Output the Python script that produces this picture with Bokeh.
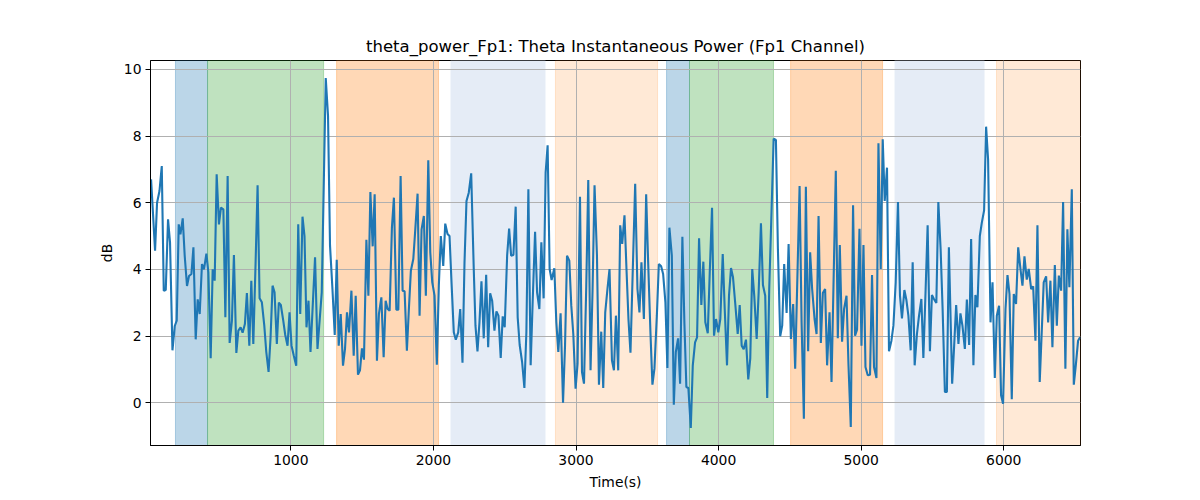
from bokeh.plotting import figure
from bokeh.models import BoxAnnotation, FixedTicker, Range1d
from bokeh.embed import file_html
from bokeh.resources import INLINE

time_s = [20, 48, 62, 79, 95, 109, 123, 139, 153, 170, 186, 200, 214, 226, 242, 256, 272, 286, 303, 317,
          333, 347, 361, 377, 391, 408, 422, 438, 452, 466, 480, 496, 510, 527, 541, 557, 571, 587, 601, 618,
          632, 648, 662, 678, 692, 709, 723, 737, 753, 767, 781, 797, 814, 828, 844, 858, 872, 886, 902, 916,
          930, 947, 961, 977, 991, 1005, 1021, 1038, 1052, 1066, 1082, 1096, 1110, 1124, 1138,
          1170, 1187, 1217, 1245, 1261, 1275, 1292, 1308, 1322, 1336, 1350, 1366, 1380, 1394, 1408, 1425,
          1441, 1455, 1471, 1485, 1499, 1513, 1530, 1544, 1558, 1574, 1588, 1604, 1618, 1635, 1651, 1665,
          1679, 1693, 1709, 1723, 1740, 1754, 1770, 1784, 1798, 1814, 1828, 1842, 1859, 1873, 1889, 1903,
          1917, 1933, 1947, 1964, 1978, 1992, 2008, 2024, 2038, 2052, 2069, 2083, 2099, 2113, 2127, 2143,
          2157, 2174, 2188, 2204, 2218, 2232, 2248,
          2265, 2283, 2295, 2309, 2323, 2337, 2353, 2370, 2384, 2398, 2412, 2428, 2442, 2456, 2472, 2486,
          2500, 2517, 2531, 2545, 2561, 2577, 2591, 2605, 2622, 2638, 2652, 2666, 2682, 2696, 2713, 2727,
          2743, 2757, 2773, 2787, 2801, 2815, 2829, 2848, 2862, 2876, 2892, 2909, 2923, 2937, 2953, 2967,
          2981, 2997, 3011, 3028, 3042, 3056, 3072, 3086, 3102, 3116, 3130, 3147, 3161, 3177, 3191, 3205,
          3221, 3235, 3252, 3266, 3280, 3296, 3310, 3324, 3340, 3354, 3368, 3382,
          3415, 3431, 3445, 3459, 3476, 3492, 3506, 3522, 3536, 3550, 3567, 3581, 3597, 3611, 3627, 3641,
          3655, 3672, 3686, 3700, 3716, 3730, 3746, 3760, 3774, 3788, 3805, 3819, 3835, 3849, 3863, 3879,
          3893, 3907, 3924, 3938, 3954, 3968, 3982, 3998, 4012, 4029, 4043, 4059, 4073, 4087, 4101, 4117,
          4134, 4148, 4162, 4176, 4192, 4208, 4222, 4236, 4250, 4267, 4281, 4297, 4311, 4327, 4341, 4355,
          4372, 4386, 4402, 4416, 4432, 4446, 4460, 4477, 4491,
          4507, 4523, 4537, 4568, 4582, 4598, 4612, 4628, 4642, 4656, 4673, 4687, 4701, 4717, 4731, 4747,
          4761, 4778, 4792, 4822, 4836, 4850, 4866, 4880, 4897, 4911, 4927, 4943, 4957, 4971, 4988, 5002,
          5016, 5030, 5046, 5062, 5076, 5090, 5107, 5121, 5137, 5151, 5165, 5181, 5195, 5212, 5226, 5242,
          5258, 5272, 5286, 5303, 5317, 5331, 5347, 5361, 5375, 5391, 5405, 5422, 5436, 5452, 5466, 5482,
          5496, 5510, 5527, 5541, 5557, 5571, 5587, 5601, 5615,
          5638, 5652, 5666, 5682, 5696, 5710, 5727, 5741, 5757, 5771, 5787, 5801, 5815, 5832, 5846, 5862,
          5876, 5890, 5907, 5921, 5937, 5951, 5967, 5981, 5995, 6012, 6026, 6040, 6056, 6070, 6086, 6101,
          6117, 6131, 6145, 6161, 6175, 6192, 6206, 6222, 6236, 6252, 6266, 6280, 6297, 6311, 6327, 6341,
          6358, 6372, 6386, 6402, 6416, 6432, 6446, 6460, 6477, 6491, 6505, 6521, 6535]

theta_db = [6.7, 4.56, 6.0, 6.35, 7.1, 3.36, 3.38, 5.5, 4.8, 1.57, 2.3, 2.46, 5.35, 5.05, 5.53, 4.4, 3.5, 3.8, 3.86, 4.66,
            1.9, 3.1, 2.66, 4.16, 4.0, 4.47, 3.9, 1.33, 4.0, 3.66, 6.85, 5.35, 5.85, 5.8, 2.56, 6.8, 1.79, 2.46, 4.43, 1.49,
            2.16, 2.26, 2.1, 2.36, 3.29, 1.71, 3.66, 1.76, 4.2, 6.52, 3.13, 3.01, 2.31, 1.52, 0.92, 1.96, 3.51, 3.31, 1.76, 3.0,
            2.93, 2.46, 2.03, 1.71, 2.71, 1.71, 1.41, 1.11, 5.35, 2.66, 5.58, 5.0, 2.26, 3.06, 1.52,
            4.36, 1.61, 3.31, 9.74, 8.6, 4.71, 3.41, 2.03, 4.29, 1.71, 2.66, 1.11, 1.61, 2.71, 2.11, 3.36,
            1.41, 3.21, 0.84, 0.97, 1.63, 1.29, 4.89, 3.21, 6.32, 4.69, 6.25, 1.26, 2.66, 3.16, 1.36, 3.06,
            2.81, 2.76, 5.25, 6.15, 2.79, 2.79, 6.80, 3.36, 3.34, 1.56, 2.81, 3.96, 4.31, 5.20, 6.27, 2.61,
            5.20, 5.60, 3.21, 7.27, 4.51, 3.61, 3.21, 1.14, 3.51, 5.00, 4.10, 5.37, 5.06, 5.00, 3.61, 2.11,
            1.89, 2.11, 2.81, 1.2, 4.19, 6.05, 6.30,
            6.88, 4.0, 2.31, 1.54, 2.41, 3.64, 1.93, 3.84, 1.66, 3.28, 3.06, 2.16, 2.74, 2.61, 1.34, 2.59,
            2.26, 4.41, 5.22, 4.41, 4.43, 5.88, 2.56, 1.73, 1.22, 0.44, 2.11, 6.40, 1.12, 3.01, 5.13, 3.31,
            2.81, 4.81, 3.13, 6.90, 7.72, 4.01, 3.68, 4.03, 2.41, 1.52, 2.68, 0.0, 1.71, 4.41, 4.26, 2.91,
            2.06, 0.42, 1.17, 6.18, 0.92, 0.57, 3.51, 6.68, 0.97, 3.36, 6.52, 4.41, 0.54, 2.13, 0.44, 2.71,
            3.43, 4.01, 1.27, 0.97, 2.61, 0.97, 5.32, 4.76, 5.62, 4.01, 2.5, 1.5,
            6.57, 3.41, 2.71, 4.21, 2.51, 6.25, 4.21, 2.11, 0.54, 1.02, 2.61, 4.16, 4.09, 3.86, 3.01, 1.04,
            5.25, 4.41, -0.06, 1.52, 1.93, 0.57, 4.98, 2.41, 0.47, 0.44, -0.76, 1.12, 1.81, 1.96, 4.93, 2.93,
            4.23, 2.41, 2.08, 3.91, 5.85, 2.01, 2.51, 2.11, 2.51, 4.46, 2.81, 1.12, 3.21, 4.04, 3.76, 2.96,
            2.06, 2.93, 1.71, 1.60, 1.89, 0.70, 1.32, 4.01, 3.21, 1.91, 3.31, 5.38, 3.53, 3.21, 0.14, 3.41,
            5.85, 7.92, 7.88, 4.61, 1.99, 2.31, 4.16, 2.69, 4.76,
            1.91, 2.96, 1.02, 6.50, 2.41, -0.48, 6.48, 1.54, 4.51, 3.41, 2.51, 2.06, 5.60, 1.79, 3.29, 3.41,
            1.12, 2.71, 0.62, 6.96, 1.93, 4.73, 1.83, 2.81, 3.21, 1.12, -0.73, 5.92, 2.01, 2.19, 5.22, 1.71,
            4.73, 1.07, 0.82, 0.84, 3.83, 1.07, 0.74, 7.78, 4.01, 7.90, 6.05, 7.05, 1.54, 1.86, 2.31, 3.61,
            6.02, 3.21, 2.53, 3.38, 3.08, 2.61, 1.57, 4.21, 1.12, 2.06, 2.59, 3.11, 1.34, 3.41, 5.32, 1.54,
            3.23, 3.11, 2.99, 6.02, 4.61, 2.81, 0.32, 0.32, 4.66,
            0.57, 1.71, 2.93, 1.76, 2.68, 2.31, 1.61, 3.09, 1.73, 4.91, 1.12, 3.23, 2.86, 5.00, 5.40, 5.77,
            8.28, 7.29, 2.41, 3.61, 0.74, 2.61, 2.91, 0.22, -0.03, 2.81, 3.83, 3.26, 0.10, 3.26, 2.96, 4.66,
            4.01, 3.51, 4.39, 3.69, 4.01, 3.41, 3.49, 1.86, 5.32, 0.62, 2.11, 3.61, 3.79, 2.41, 3.66, 1.66,
            4.13, 2.31, 3.81, 3.36, 6.02, 1.02, 5.20, 3.46, 6.40, 0.54, 1.12, 1.86, 1.96]

span_starts = [191, 416, 1321, 2120, 2856, 3635, 3796, 4505, 5234, 5949]
span_ends = [416, 1230, 2036, 2786, 3572, 3796, 4385, 5150, 5865, 6538]
span_colors = ["#1f77b4", "#2ca02c", "#ff7f0e", "#e5ecf6", "#ff7f0e",
               "#1f77b4", "#2ca02c", "#ff7f0e", "#e5ecf6", "#ff7f0e"]
span_alphas = [0.3, 0.3, 0.3, 1.0, 0.17, 0.3, 0.3, 0.3, 1.0, 0.17]

x_ticks = [1000, 2000, 3000, 4000, 5000, 6000]
y_ticks = [0, 2, 4, 6, 8, 10]

FONT = "DejaVu Sans"

p = figure(frame_width=930, frame_height=385,
           min_border_left=150, min_border_right=112, min_border_top=60, min_border_bottom=47,
           output_backend="svg", toolbar_location=None,
           title="theta_power_Fp1: Theta Instantaneous Power (Fp1 Channel)",
           x_range=Range1d(16, 6538), y_range=Range1d(-1.285, 10.265))

p.background_fill_color = "white"
p.border_fill_color = "white"
p.outline_line_color = "black"
p.outline_line_width = 1
p.outline_line_alpha = 1

p.title.align = "center"
p.title.text_font = FONT
p.title.text_font_size = "16.5px"
p.title.text_font_style = "normal"
p.title.text_color = "black"

for s, e, c, a in zip(span_starts, span_ends, span_colors, span_alphas):
    edge_alpha = a if a < 1 else 0.0
    p.add_layout(BoxAnnotation(left=s, right=e, fill_color=c, fill_alpha=a,
                               line_color=c, line_alpha=edge_alpha, line_width=1, level="image"))

p.line(time_s, theta_db, line_color="#1f77b4", line_width=2.1)

p.xaxis.ticker = FixedTicker(ticks=x_ticks)
p.yaxis.ticker = FixedTicker(ticks=y_ticks)
p.xaxis.axis_label = "Time(s)"
p.yaxis.axis_label = "dB"
for ax in (p.xaxis, p.yaxis):
    ax.axis_label_text_font = FONT
    ax.axis_label_text_font_size = "13.9px"
    ax.axis_label_text_font_style = "normal"
    ax.axis_label_text_color = "black"
    ax.major_label_text_font = FONT
    ax.major_label_text_font_size = "13.9px"
    ax.major_label_text_color = "black"
    ax.major_tick_in = 0
    ax.major_tick_out = 5
    ax.minor_tick_line_color = None
    ax.axis_line_color = "black"
    ax.major_tick_line_color = "black"
    ax.major_label_standoff = 4
    ax.axis_label_standoff = 6

p.xgrid.grid_line_color = "#b0b0b0"
p.ygrid.grid_line_color = "#b0b0b0"
p.xgrid.grid_line_width = 1
p.ygrid.grid_line_width = 1

open("out.html", "w").write(file_html(p, INLINE))
